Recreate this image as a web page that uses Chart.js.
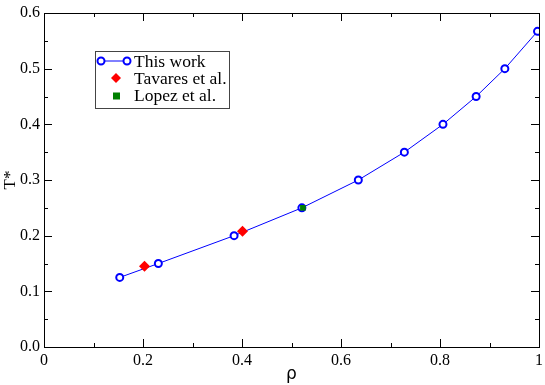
<!DOCTYPE html>
<html>
<head>
<meta charset="utf-8">
<script src="https://cdn.jsdelivr.net/npm/chart.js@4.4.1/dist/chart.umd.min.js"></script>
<style>
  html, body { margin: 0; padding: 0; background: #fff; }
  #wrap { width: 545px; height: 385px; }
</style>
</head>
<body>
<div id="wrap"><canvas id="c" width="545" height="385"></canvas></div>
<script>
'use strict';

// ── Data ──────────────────────────────────────────────────────
const thisWorkRho = [0.153, 0.231, 0.384, 0.521, 0.635, 0.728, 0.806, 0.873, 0.931, 0.997];
const thisWorkT   = [0.125, 0.150, 0.200, 0.250, 0.300, 0.350, 0.400, 0.450, 0.500, 0.567];
const tavaresRho  = [0.203, 0.401];
const tavaresT    = [0.145, 0.208];
const lopezRho    = [0.523];
const lopezT      = [0.250];
const seriesNames = ['This work', 'Tavares et al.', 'Lopez et al.'];
const xTicks      = [0, 0.2, 0.4, 0.6, 0.8, 1];
const yTicks      = [0, 0.1, 0.2, 0.3, 0.4, 0.5, 0.6];

const SERIF = "'Liberation Serif', 'DejaVu Serif', serif";
const pts = (xs, ys) => xs.map((x, i) => ({ x, y: ys[i] }));

// ── Inward ticks on all four sides + frame ───────────────────
const frameTicks = {
  id: 'frameTicks',
  beforeDatasetsDraw(chart) {
    const { ctx, chartArea: a, scales: { x, y } } = chart;
    ctx.save();
    ctx.strokeStyle = '#000';
    ctx.lineWidth = 1;
    const line = (x1, y1, x2, y2) => {
      ctx.beginPath(); ctx.moveTo(x1, y1); ctx.lineTo(x2, y2); ctx.stroke();
    };
    for (let i = 0; i <= 10; i++) {
      const v = i / 10, px = Math.round(x.getPixelForValue(v)) + 0.5;
      const len = i % 2 === 0 ? 8 : 4;
      line(px, a.bottom, px, a.bottom - len);
      line(px, a.top, px, a.top + len);
    }
    for (let i = 0; i <= 12; i++) {
      const v = i * 0.05, py = Math.round(y.getPixelForValue(v)) + 0.5;
      const len = i % 2 === 0 ? 8 : 4;
      line(a.left, py, a.left + len, py);
      line(a.right, py, a.right - len, py);
    }
    ctx.strokeRect(Math.round(a.left) + 0.5, Math.round(a.top) + 0.5,
                   Math.round(a.right - a.left), Math.round(a.bottom - a.top));
    ctx.restore();
  }
};

// ── Legend box drawn inside the plot ─────────────────────────
const boxLegend = {
  id: 'boxLegend',
  afterDatasetsDraw(chart) {
    const { ctx } = chart;
    ctx.save();
    ctx.fillStyle = '#fff';
    ctx.fillRect(95.5, 51.5, 134, 57);
    ctx.strokeStyle = '#444';
    ctx.lineWidth = 1;
    ctx.strokeRect(95.5, 51.5, 134, 57);

    const rows = [61, 78, 95.5];
    // This work: line with two circles
    ctx.strokeStyle = '#0000ff';
    ctx.beginPath(); ctx.moveTo(101, rows[0]); ctx.lineTo(127, rows[0]); ctx.stroke();
    ctx.lineWidth = 2;
    [101, 127].forEach(cx => {
      ctx.beginPath(); ctx.arc(cx, rows[0], 3.5, 0, Math.PI * 2);
      ctx.fillStyle = '#fff'; ctx.fill(); ctx.stroke();
    });
    // Tavares: red diamond
    ctx.fillStyle = '#ff0000';
    ctx.beginPath();
    ctx.moveTo(116, rows[1] - 5); ctx.lineTo(121, rows[1]);
    ctx.lineTo(116, rows[1] + 5); ctx.lineTo(111, rows[1]);
    ctx.closePath(); ctx.fill();
    // Lopez: green square
    ctx.fillStyle = '#008000';
    ctx.fillRect(113, rows[2] - 3, 7, 7);

    ctx.fillStyle = '#000';
    ctx.font = '17.5px ' + SERIF;
    ctx.textBaseline = 'middle';
    seriesNames.forEach((n, i) => ctx.fillText(n, 134, rows[i] + 1));
    ctx.restore();
  }
};

new Chart(document.getElementById('c'), {
  type: 'scatter',
  data: {
    datasets: [
      {
        label: seriesNames[0],
        data: pts(thisWorkRho, thisWorkT),
        showLine: true,
        borderColor: '#0000ff',
        borderWidth: 1,
        pointBorderColor: '#0000ff',
        pointBackgroundColor: '#fff',
        pointBorderWidth: 2,
        pointRadius: 3.5,
        tension: 0,
        order: 3
      },
      {
        label: seriesNames[1],
        data: pts(tavaresRho, tavaresT),
        pointStyle: 'rectRot',
        pointRadius: 5.5,
        pointBackgroundColor: '#ff0000',
        pointBorderColor: '#ff0000',
        pointBorderWidth: 0,
        order: 1
      },
      {
        label: seriesNames[2],
        data: pts(lopezRho, lopezT),
        pointStyle: 'rect',
        pointRadius: 4,
        pointBackgroundColor: '#008000',
        pointBorderColor: '#008000',
        pointBorderWidth: 0,
        order: 2
      }
    ]
  },
  options: {
    responsive: false,
    animation: false,
    layout: { padding: { top: 13, right: 4, left: 0, bottom: 0 } },
    plugins: { legend: { display: false }, tooltip: { enabled: false } },
    scales: {
      x: {
        type: 'linear', min: 0, max: 1,
        afterBuildTicks: s => { s.ticks = xTicks.map(v => ({ value: v })); },
        afterFit: s => { s.height = 38; s.paddingLeft = 0; s.paddingRight = 0; },
        grid: { display: false, drawTicks: false },
        border: { display: false },
        ticks: {
          color: '#000', padding: 4,
          font: { family: SERIF, size: 16 },
          callback: v => (v === 0 || v === 1) ? String(v) : v.toFixed(1)
        },
        title: { display: true, text: 'ρ', color: '#000', padding: { top: 0, bottom: 0 },
                 font: { family: "'DejaVu Sans', sans-serif", size: 17 } }
      },
      y: {
        type: 'linear', min: 0, max: 0.6,
        afterBuildTicks: s => { s.ticks = yTicks.map(v => ({ value: v })); },
        afterFit: s => { s.width = 44; s.paddingTop = 0; s.paddingBottom = 0; },
        grid: { display: false, drawTicks: false },
        border: { display: false },
        ticks: {
          color: '#000', padding: 4,
          font: { family: SERIF, size: 16 },
          callback: v => v.toFixed(1)
        },
        title: { display: true, text: 'T*', color: '#000', padding: { top: 0, bottom: 0 },
                 font: { family: SERIF, size: 17 } }
      }
    }
  },
  plugins: [frameTicks, boxLegend]
});
</script>
</body>
</html>
